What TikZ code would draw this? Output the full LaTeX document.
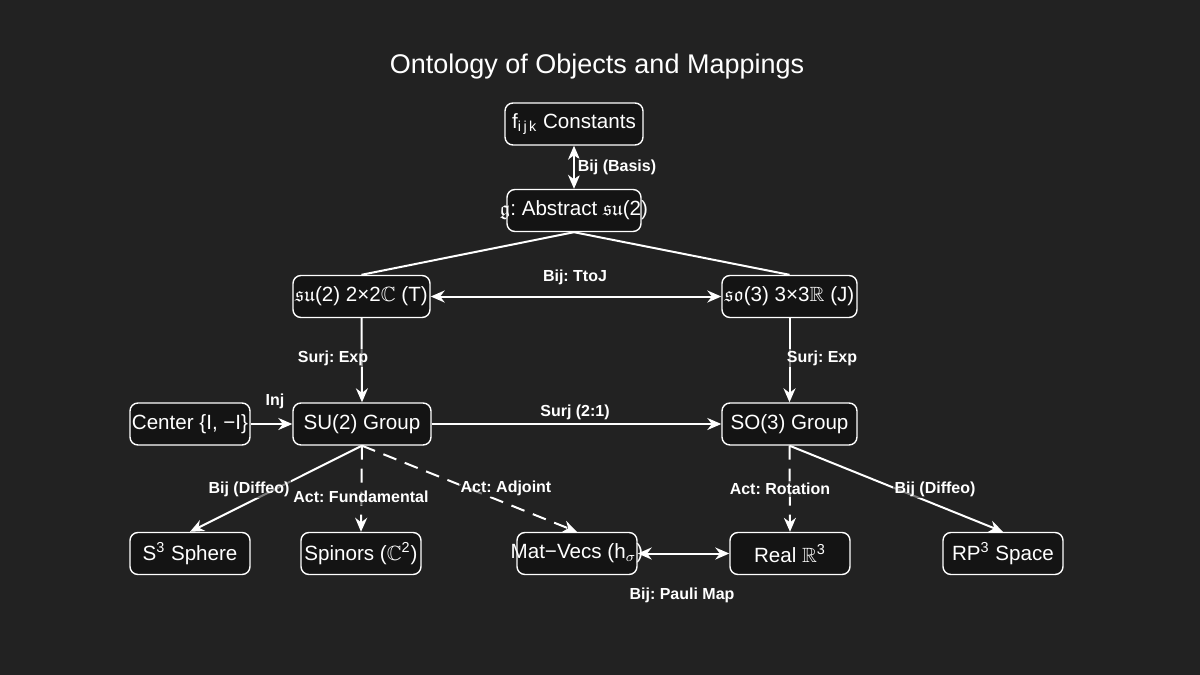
\documentclass[tikz,border=0pt]{standalone}
\usepackage{amssymb}
\usepackage{fontspec}
\setmainfont{Liberation Sans}
\usetikzlibrary{arrows.meta}
\definecolor{bg}{HTML}{222222}
\definecolor{boxfill}{HTML}{141414}
\frenchspacing
\begin{document}
\begin{tikzpicture}[x=0.5pt,y=-0.5pt,
  obj/.style={draw=white, line width=0.7pt, fill=boxfill, rounded corners=4pt,
    text=white, font=\fontsize{10.3}{12}\selectfont, minimum height=21pt,
    inner xsep=1pt, inner ysep=0pt},
  edge/.style={draw=white, line width=1pt, -{Stealth[length=7pt,width=6pt]}},
  dedge/.style={edge, dash pattern=on 7pt off 4.5pt},
  both/.style={draw=white, line width=1pt, {Stealth[length=7pt,width=6pt]}-{Stealth[length=7pt,width=6pt]}},
  plain/.style={draw=white, line width=1pt},
  lbl/.style={text=white, font=\bfseries\fontsize{8}{9.6}\selectfont, fill=bg,
    fill opacity=0.6, text opacity=1, inner sep=1pt}]
\fill[bg] (0,0) rectangle (1200,675);
\useasboundingbox (0,0) rectangle (1200,675);
\node[text=white, font=\fontsize{13.5}{16}\selectfont] (title) at (597,67) {Ontology of Objects and Mappings};
% objects
\node[obj, minimum width=69pt] (fijk) at (574,124) {f\textsubscript{i\,j\,k} Constants};
\node[obj] (g) at (574,210.5) {\makebox[65pt]{$\mathfrak{g}$: Abstract $\mathfrak{su}$(2)}};
\node[obj] (su2) at (361.5,296.5) {\makebox[66.5pt]{$\mathfrak{su}$(2) 2×2$\mathbb{C}$ (T)}};
\node[obj] (so3) at (789.5,296.5) {\makebox[65.5pt]{$\mathfrak{so}$(3) 3×3$\mathbb{R}$ (J)}};
\node[obj] (center) at (190,424) {\makebox[58pt]{Center \{I, −I\}}};
\node[obj, minimum width=69pt] (SU2) at (362,424) {SU(2) Group};
\node[obj, minimum width=67.5pt] (SO3) at (789.5,424) {SO(3) Group};
\node[obj, minimum width=60pt] (s3) at (190,553.5) {S\textsuperscript{3} Sphere};
\node[obj] (spin) at (361,553.5) {\makebox[58pt]{Spinors ($\mathbb{C}$\textsuperscript{2})}};
\node[obj] (mat) at (577,553.5) {\makebox[58pt]{Mat−Vecs (h$_\sigma$)}};
\node[obj, minimum width=60pt] (real) at (790,553.5) {Real $\mathbb{R}$\textsuperscript{3}};
\node[obj, minimum width=60pt] (rp3) at (1003,553.5) {RP\textsuperscript{3} Space};
% connectors
\draw[both] (fijk.south) -- (g.north);
\draw[plain] (g.south) -- (su2.north);
\draw[plain] (g.south) -- (so3.north);
\draw[both] (su2.east) -- (so3.west);
\draw[edge] (su2.south) -- (SU2.north);
\draw[edge] (so3.south) -- (SO3.north);
\draw[edge] (center.east) -- (SU2.west);
\draw[edge] (SU2.east) -- (SO3.west);
\draw[edge] (SU2.south) -- (s3.north);
\draw[dedge] (SU2.south) -- (spin.north);
\draw[dedge] (SU2.south) -- (mat.north);
\draw[dedge] (SO3.south) -- (real.north);
\draw[edge] (SO3.south) -- (rp3.north);
\draw[both] (mat.east) -- (real.west);
% labels
\node[lbl] (l1) at (617,167) {Bij (Basis)};
\node[lbl] (l2) at (575,277) {Bij: TtoJ};
\node[lbl] (l3) at (333,358) {Surj: Exp};
\node[lbl] (l4) at (822,358) {Surj: Exp};
\node[lbl] (l5) at (275,401) {Inj};
\node[lbl] (l6) at (575,412) {Surj (2:1)};
\node[lbl] (l7) at (249,489) {Bij (Diffeo)};
\node[lbl] (l8) at (361,497) {Act: Fundamental};
\node[lbl] (l9) at (506,488) {Act: Adjoint};
\node[lbl] (l10) at (780,489) {Act: Rotation};
\node[lbl] (l11) at (935,489) {Bij (Diffeo)};
\node[lbl] (l12) at (682,595) {Bij: Pauli Map};
\end{tikzpicture}
\end{document}
